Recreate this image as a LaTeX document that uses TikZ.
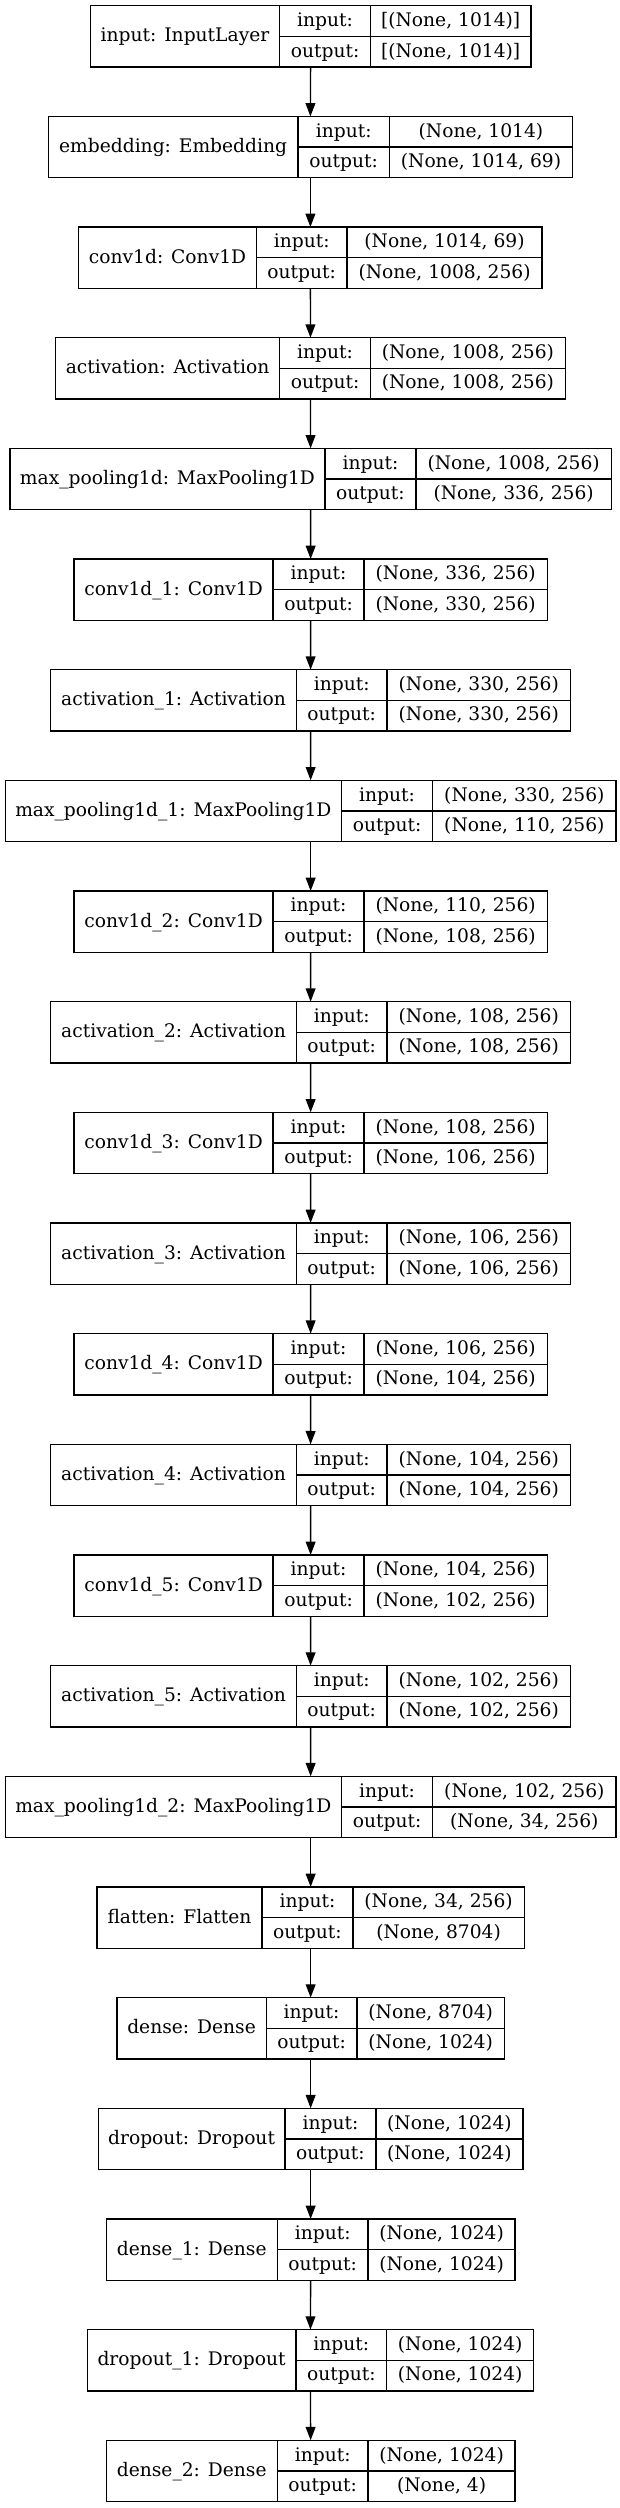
\documentclass[tikz,border=0pt]{standalone}
\usepackage{fontspec}
\setmainfont{DejaVu Serif}
\usetikzlibrary{arrows.meta}
\tikzset{
  layerbox/.style={draw=black, rectangle, inner sep=0pt, outer sep=0pt, minimum height=61.3pt, line width=1.33pt},
  cellline/.style={draw=black, line width=1.33pt},
  txt/.style={inner sep=0pt, outer sep=0pt, anchor=base, font=\fontsize{18.67}{22}\selectfont},
  edge/.style={draw=black, line width=1.33pt, -{Triangle[length=13.3pt,width=9.8pt]}}
}
\newcommand{\kerasLayer}[9]{%
  \pgfmathsetmacro{\lyT}{5.7+#1*110.66}%
  \pgfmathsetmacro{\lyB}{\lyT+61.3}%
  \pgfmathsetmacro{\lyM}{\lyT+30.65}%
  \pgfmathsetmacro{\lyW}{#5-#2}%
  \node[layerbox, minimum width=\lyW pt, anchor=north west] (#9) at (#2,\lyT) {};
  \draw[cellline] (#3,\lyT) -- (#3,\lyB) (#4,\lyT) -- (#4,\lyB) (#3,\lyM) -- (#5,\lyM);
  \node[txt] (#9-lbl) at ({(#2+#3)/2},\lyT+36.2) {#6};
  \node[txt] (#9-ik) at ({(#3+#4)/2},\lyT+20.8) {input:};
  \node[txt] (#9-ok) at ({(#3+#4)/2},\lyT+51.3) {output:};
  \node[txt] (#9-iv) at ({(#4+#5)/2},\lyT+20.8) {#7};
  \node[txt] (#9-ov) at ({(#4+#5)/2},\lyT+51.3) {#8};
}
\begin{document}
\begin{tikzpicture}[x=1pt,y=-1pt]
\useasboundingbox (0,0) rectangle (620,2508);
\kerasLayer{0}{90.3}{279.7}{370.4}{530.9}{input: InputLayer}{[(None, 1014)]}{[(None, 1014)]}{L0}
\kerasLayer{1}{48.3}{297.9}{389.5}{572.5}{embedding: Embedding}{(None, 1014)}{(None, 1014, 69)}{L1}
\kerasLayer{2}{78.8}{256.3}{347.1}{542.0}{conv1d: Conv1D}{(None, 1014, 69)}{(None, 1008, 256)}{L2}
\kerasLayer{3}{55.5}{279.7}{370.4}{565.4}{activation: Activation}{(None, 1008, 256)}{(None, 1008, 256)}{L3}
\kerasLayer{4}{9.9}{324.9}{416.0}{611.3}{max\_pooling1d: MaxPooling1D}{(None, 1008, 256)}{(None, 336, 256)}{L4}
\kerasLayer{5}{74.1}{273.0}{364.1}{547.2}{conv1d\_1: Conv1D}{(None, 336, 256)}{(None, 330, 256)}{L5}
\kerasLayer{6}{50.7}{296.4}{387.1}{570.5}{activation\_1: Activation}{(None, 330, 256)}{(None, 330, 256)}{L6}
\kerasLayer{7}{5.2}{341.5}{432.6}{616.1}{max\_pooling1d\_1: MaxPooling1D}{(None, 330, 256)}{(None, 110, 256)}{L7}
\kerasLayer{8}{74.1}{273.0}{364.1}{547.2}{conv1d\_2: Conv1D}{(None, 110, 256)}{(None, 108, 256)}{L8}
\kerasLayer{9}{50.7}{296.4}{387.1}{570.5}{activation\_2: Activation}{(None, 108, 256)}{(None, 108, 256)}{L9}
\kerasLayer{10}{74.1}{273.0}{364.1}{547.2}{conv1d\_3: Conv1D}{(None, 108, 256)}{(None, 106, 256)}{L10}
\kerasLayer{11}{50.7}{296.4}{387.1}{570.5}{activation\_3: Activation}{(None, 106, 256)}{(None, 106, 256)}{L11}
\kerasLayer{12}{74.1}{273.0}{364.1}{547.2}{conv1d\_4: Conv1D}{(None, 106, 256)}{(None, 104, 256)}{L12}
\kerasLayer{13}{50.7}{296.4}{387.1}{570.5}{activation\_4: Activation}{(None, 104, 256)}{(None, 104, 256)}{L13}
\kerasLayer{14}{74.1}{273.0}{364.1}{547.2}{conv1d\_5: Conv1D}{(None, 104, 256)}{(None, 102, 256)}{L14}
\kerasLayer{15}{50.7}{296.4}{387.1}{570.5}{activation\_5: Activation}{(None, 102, 256)}{(None, 102, 256)}{L15}
\kerasLayer{16}{5.2}{341.5}{432.6}{616.1}{max\_pooling1d\_2: MaxPooling1D}{(None, 102, 256)}{(None, 34, 256)}{L16}
\kerasLayer{17}{97.1}{261.9}{353.0}{524.2}{flatten: Flatten}{(None, 34, 256)}{(None, 8704)}{L17}
\kerasLayer{18}{116.9}{266.2}{357.0}{504.4}{dense: Dense}{(None, 8704)}{(None, 1024)}{L18}
\kerasLayer{19}{98.3}{284.9}{376.0}{523.0}{dropout: Dropout}{(None, 1024)}{(None, 1024)}{L19}
\kerasLayer{20}{106.2}{277.3}{368.1}{515.1}{dense\_1: Dense}{(None, 1024)}{(None, 1024)}{L20}
\kerasLayer{21}{87.2}{296.0}{386.7}{533.7}{dropout\_1: Dropout}{(None, 1024)}{(None, 1024)}{L21}
\kerasLayer{22}{106.2}{277.3}{368.1}{515.1}{dense\_2: Dense}{(None, 1024)}{(None, 4)}{L22}
\foreach \a/\b in {L0/L1,L1/L2,L2/L3,L3/L4,L4/L5,L5/L6,L6/L7,L7/L8,L8/L9,L9/L10,L10/L11,L11/L12,L12/L13,L13/L14,L14/L15,L15/L16,L16/L17,L17/L18,L18/L19,L19/L20,L20/L21,L21/L22}
  \draw[edge] (\a.south) -- (\b.north);
\end{tikzpicture}
\end{document}
